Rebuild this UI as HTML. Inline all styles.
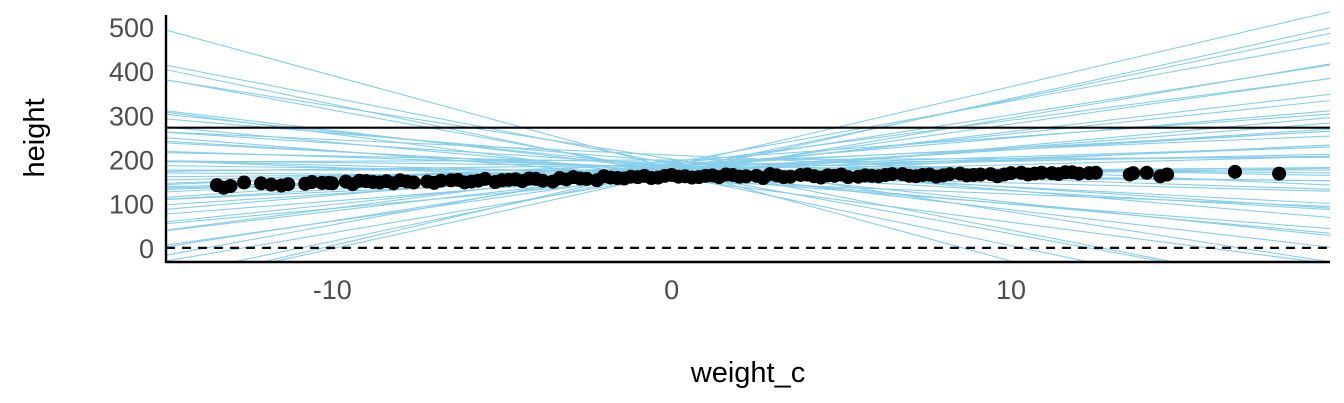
<!DOCTYPE html>
<html><head><meta charset="utf-8"><style>
body{margin:0;background:#fff}
svg{display:block;font-family:"Liberation Sans",sans-serif}
</style></head><body>
<svg id="chart" width="1344" height="403">
<defs><clipPath id="clip"><rect x="166" y="10" width="1164" height="252"/></clipPath></defs>
<g id="lines" clip-path="url(#clip)"></g>
<g id="refs"></g>
<g id="points"></g>
<g id="axes"></g>
<text x="748" y="382" font-size="29" text-anchor="middle" fill="#000">weight_c</text>
<text transform="translate(44,138) rotate(-90)" font-size="29" text-anchor="middle" fill="#000">height</text>
</svg>
<script>
const intercepts=[180,165,190,172,201,158,176,183,169,195,160,187,174,178,210,152,181,167,193,171,185,162,176,199,170,188,155,179,168,182,174,191,163,186,177,172,196,166,184,159,178,173,189,170,181,164,192,175,168,185];
const slopes=[-21,-16,-15,-14,-12,-10,-9,-8,-7,-6.5,-6,-5,-4.5,-4,-3.5,-3,-2.5,-2,-1.5,-1,-0.8,-0.5,0,0.3,0.6,1,1.3,1.7,2,2.4,2.8,3.2,3.6,4,4.5,5,5.5,6,6.5,7,8,9,10,11,12,13,14,16,17,18];
const weights=[-13.4,-13.0,-12.6,-11.8,-11.3,-10.8,-10.3,-10.0,-9.6,-9.2,-8.8,-8.4,-8.0,-7.6,-7.2,-6.8,-6.3,-5.9,-5.5,-5.0,-4.6,-4.2,-3.8,-3.3,-2.9,-2.5,-2.0,-1.6,-1.2,-0.8,-0.4,0,0.4,0.8,1.2,1.6,2.0,2.5,2.9,3.3,3.8,4.2,4.6,5.0,5.5,5.9,6.3,6.8,7.2,7.6,8.0,8.5,8.9,9.4,9.8,10.3,10.7,11.2,11.6,12.0,12.5,13.6,14.0,14.6,16.6,17.9,
-13.2,-12.1,-11.5,-10.6,-10.1,-9.4,-9.0,-8.6,-8.2,-7.8,-7.0,-6.5,-6.1,-5.7,-5.2,-4.8,-4.4,-4.0,-3.5,-3.1,-2.7,-2.2,-1.8,-1.4,-1.0,-0.6,-0.2,0.2,0.6,1.0,1.4,1.8,2.2,2.7,3.1,3.5,4.0,4.4,4.8,5.2,5.7,6.1,6.5,7.0,7.4,7.8,8.2,8.7,9.1,9.6,10.0,10.5,10.9,11.4,11.8,12.3,13.5,14.4];
const heights=[142,140,148,143,144,145,147,146,150,152,149,151,153,148,150,152,154,150,156,153,155,157,152,158,160,156,162,158,161,163,159,165,162,160,164,166,161,163,167,160,165,162,164,166,161,163,165,167,162,166,164,168,165,167,166,170,168,169,171,168,170,169,170,166,172,168,
136,146,141,149,147,144,151,148,146,150,147,153,148,152,149,154,151,156,150,155,157,153,159,157,160,158,163,161,159,163,160,165,162,158,164,161,166,159,163,160,164,162,167,163,165,161,167,164,166,162,169,166,170,167,171,169,166,162];
const yTicks=[0,100,200,300,400,500];
const xTicks=[-10,0,10];
const refValues=[0,272];
const X0=-14.9,X1=19.4,Y0=-32,Y1=527,PL=166,PR=1330,PT=15,PB=262;
const sx=v=>PL+(v-X0)/(X1-X0)*(PR-PL);
const sy=v=>PB-(v-Y0)/(Y1-Y0)*(PB-PT);
const NS='http://www.w3.org/2000/svg';
function mk(tag,parent,attrs){const e=document.createElementNS(NS,tag);for(const k in attrs)e.setAttribute(k,attrs[k]);parent.appendChild(e);return e;}
const lg=document.getElementById('lines');
for(let i=0;i<intercepts.length;i++){
 const a=intercepts[i],b=slopes[i];
 const l=mk('line',lg,{x1:sx(X0),y1:sy(a+b*X0),x2:sx(X1),y2:sy(a+b*X1),stroke:'#87ceeb','stroke-width':1.1});
 
 
}
const rg=document.getElementById('refs');
const r0=mk('line',rg,{x1:PL,x2:PR,y1:sy(refValues[0]),y2:sy(refValues[0]),stroke:'#000','stroke-width':2.2,'stroke-dasharray':'9,7'});


const r1=mk('line',rg,{x1:PL,x2:PR,y1:sy(refValues[1]),y2:sy(refValues[1]),stroke:'#000','stroke-width':2.2});


const pg=document.getElementById('points');
for(let i=0;i<weights.length;i++){
 const c=mk('circle',pg,{cx:sx(weights[i]),cy:sy(heights[i]),r:7,fill:'#000'});
 
 
}
const ag=document.getElementById('axes');
const xa=mk('line',ag,{x1:PL-1,x2:PR,y1:PB,y2:PB,stroke:'#000','stroke-width':2.4});


const ya=mk('line',ag,{x1:PL,x2:PL,y1:PT,y2:PB+1,stroke:'#000','stroke-width':2.4});


yTicks.forEach(v=>{const t=mk('text',ag,{x:154,y:sy(v)+10,'font-size':27,'text-anchor':'end',fill:'#4d4d4d'});t.textContent=v;
 
 });
xTicks.forEach(v=>{const t=mk('text',ag,{x:sx(v),y:299,'font-size':27,'text-anchor':'middle',fill:'#4d4d4d'});t.textContent=v;
 
 });
</script>
</body></html>
